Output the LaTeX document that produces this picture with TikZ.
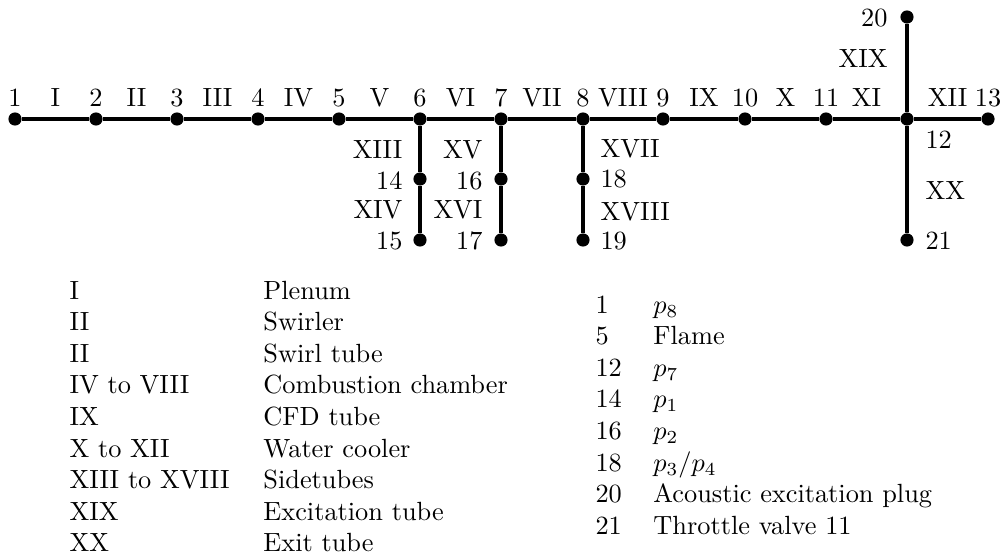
\documentclass[tikz,border=0pt]{standalone}
\usepackage{amsmath}
\usepackage{tikz}

\tikzset{
  dot/.style={circle,fill=black,inner sep=0pt,minimum size=5pt},
  tube/.style={line width=1.25pt},
  lbl/.style={inner sep=0pt},
}

\begin{document}
\begin{tikzpicture}[x=0.38pt,y=-0.38pt]
	\useasboundingbox (0,0) rectangle (1001,557);
	% main line
	\node[dot] (n1) at (15,119) {};
	\node[dot] (n2) at (96,119) {};
	\node[dot] (n3) at (177,119) {};
	\node[dot] (n4) at (258,119) {};
	\node[dot] (n5) at (339,119) {};
	\node[dot] (n6) at (420,119) {};
	\node[dot] (n7) at (501,119) {};
	\node[dot] (n8) at (583,119) {};
	\node[dot] (n9) at (663,119) {};
	\node[dot] (n10) at (745,119) {};
	\node[dot] (n11) at (826,119) {};
	\node[dot] (n12) at (907,119) {};
	\node[dot] (n13) at (988,119) {};
	% side branches
	\node[dot] (n14) at (420,179) {};
	\node[dot] (n15) at (420,240) {};
	\node[dot] (n16) at (501,179) {};
	\node[dot] (n17) at (501,240) {};
	\node[dot] (n18) at (583,179) {};
	\node[dot] (n19) at (583,240) {};
	\node[dot] (n20) at (907,17) {};
	\node[dot] (n21) at (907,240) {};
	\draw[tube] (n1) -- (n2) -- (n3) -- (n4) -- (n5) -- (n6) -- (n7) -- (n8) -- (n9) -- (n10) -- (n11) -- (n12) -- (n13);
	\draw[tube] (n6) -- (n14) -- (n15);
	\draw[tube] (n7) -- (n16) -- (n17);
	\draw[tube] (n8) -- (n18) -- (n19);
	\draw[tube] (n20) -- (n12) -- (n21);
	% labels on the main line
	\node[lbl,anchor=base] (t1) at (15,107) {1};
	\node[lbl,anchor=base] (r1) at (55.5,107) {I};
	\node[lbl,anchor=base] (t2) at (96,107) {2};
	\node[lbl,anchor=base] (r2) at (136.5,107) {II};
	\node[lbl,anchor=base] (t3) at (177,107) {3};
	\node[lbl,anchor=base] (r3) at (217.5,107) {III};
	\node[lbl,anchor=base] (t4) at (258,107) {4};
	\node[lbl,anchor=base] (r4) at (298.5,107) {IV};
	\node[lbl,anchor=base] (t5) at (339,107) {5};
	\node[lbl,anchor=base] (r5) at (379.5,107) {V};
	\node[lbl,anchor=base] (t6) at (420,107) {6};
	\node[lbl,anchor=base] (r6) at (460.5,107) {VI};
	\node[lbl,anchor=base] (t7) at (501,107) {7};
	\node[lbl,anchor=base] (r7) at (542,107) {VII};
	\node[lbl,anchor=base] (t8) at (583,107) {8};
	\node[lbl,anchor=base] (r8) at (623,107) {VIII};
	\node[lbl,anchor=base] (t9) at (663,107) {9};
	\node[lbl,anchor=base] (r9) at (704,107) {IX};
	\node[lbl,anchor=base] (t10) at (745,107) {10};
	\node[lbl,anchor=base] (r10) at (785.5,107) {X};
	\node[lbl,anchor=base] (t11) at (826,107) {11};
	\node[lbl,anchor=base] (r11) at (866.5,107) {XI};
	\node[lbl,anchor=base] (r12) at (947.5,107) {XII};
	\node[lbl,anchor=base] (t13) at (988,107) {13};
	% labels on the branches
	\node[lbl,anchor=base east] (r13) at (403,159) {XIII};
	\node[lbl,anchor=base east] (t14) at (403,189) {14};
	\node[lbl,anchor=base east] (r14) at (403,219) {XIV};
	\node[lbl,anchor=base east] (t15) at (403,250) {15};
	\node[lbl,anchor=base east] (r15) at (483,159) {XV};
	\node[lbl,anchor=base east] (t16) at (483,189) {16};
	\node[lbl,anchor=base east] (r16) at (483,219) {XVI};
	\node[lbl,anchor=base east] (t17) at (483,250) {17};
	\node[lbl,anchor=base west] (r17) at (600,158) {XVII};
	\node[lbl,anchor=base west] (t18) at (600,188) {18};
	\node[lbl,anchor=base west] (r18) at (600,220) {XVIII};
	\node[lbl,anchor=base west] (t19) at (600,250) {19};
	\node[lbl,anchor=base east] (t20) at (888,27) {20};
	\node[lbl,anchor=base east] (r19) at (888,68) {XIX};
	\node[lbl,anchor=base west] (t12) at (925,149) {12};
	\node[lbl,anchor=base west] (r20) at (925,200) {XX};
	\node[lbl,anchor=base west] (t21) at (925,249) {21};
	% legends
	\node[lbl,anchor=north west] (legtubes) at (69,276.6) {\begin{tabular}{@{}p{73.7pt}@{}l@{}}
		I & Plenum\\
		II & Swirler\\
		II & Swirl tube\\
		IV to VIII & Combustion chamber\\
		IX & CFD tube\\
		X to XII & Water cooler\\
		XIII to XVIII & Sidetubes\\
		XIX & Excitation tube\\
		XX & Exit tube
	\end{tabular}};
	\node[lbl,anchor=north west] (legpoints) at (595,290.6) {\begin{tabular}{@{}p{22pt}@{}l@{}}
		1 & $p_8$\\
		5 & Flame\\
		12 & $p_7$\\
		14 & $p_1$\\
		16 & $p_2$\\
		18 & $p_3/p_4$\\
		20 & Acoustic excitation plug\\
		21 & Throttle valve 11
	\end{tabular}};
\end{tikzpicture}
\end{document}
